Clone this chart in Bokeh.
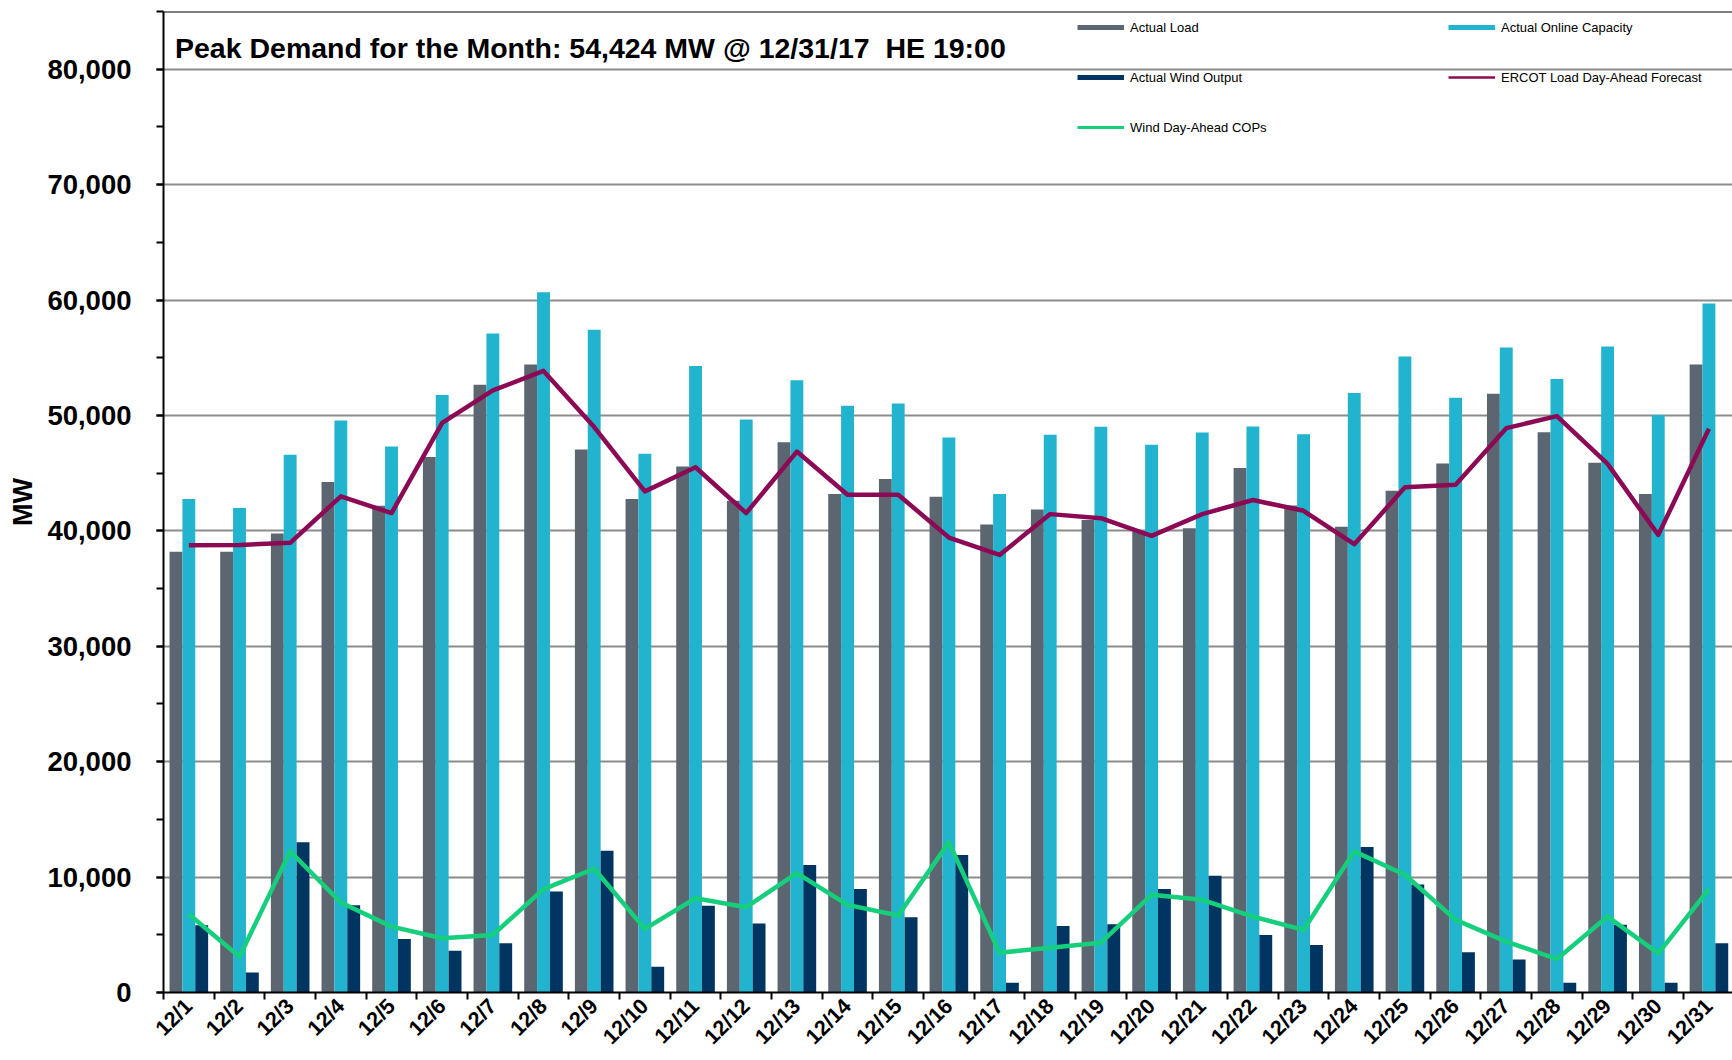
import numpy as np
from bokeh.plotting import figure
from bokeh.models import (ColumnDataSource, Range1d, FixedTicker, Legend, LegendItem,
                          Label, Span, NumeralTickFormatter)
from bokeh.transform import dodge
from bokeh.embed import file_html
from bokeh.resources import INLINE

# ---------------- data ----------------
days = ["12/1", "12/2", "12/3", "12/4", "12/5", "12/6", "12/7", "12/8", "12/9", "12/10",
        "12/11", "12/12", "12/13", "12/14", "12/15", "12/16", "12/17", "12/18", "12/19",
        "12/20", "12/21", "12/22", "12/23", "12/24", "12/25", "12/26", "12/27", "12/28",
        "12/29", "12/30", "12/31"]

actual_load = [38200, 38200, 39770, 44230, 42170, 46400, 52670, 54410, 47040, 42750,
               45570, 42610, 47680, 43190, 44490, 42960, 40550, 41860, 40930, 39940,
               40230, 45450, 42200, 40350, 43480, 45830, 51880, 48550, 45910, 43190, 54424]

online_capacity = [42750, 41970, 46600, 49570, 47300, 51770, 57100, 60670, 57420, 46670,
                   54290, 49650, 53040, 50840, 51040, 48090, 43190, 48320, 49010, 47450,
                   48520, 49040, 48380, 51940, 55100, 51540, 55880, 53160, 55970, 50030, 59710]

wind_output = [5830, 1740, 13010, 7570, 4640, 3620, 4260, 8750, 12290, 2230,
               7510, 5970, 11040, 8960, 6520, 11910, 840, 5770, 5910, 8960,
               10120, 4990, 4120, 12610, 9360, 3480, 2870, 840, 5860, 840, 4260]

load_forecast = [38750, 38780, 38960, 42990, 41540, 49360, 52170, 53860, 48990, 43420,
                 45510, 41540, 46870, 43130, 43130, 39420, 37910, 41450, 41100, 39570,
                 41450, 42670, 41740, 38840, 43770, 44000, 48900, 49940, 45800, 39650, 48840]

wind_cops = [6780, 3100, 12230, 7800, 5710, 4700, 4990, 8960, 10720, 5510,
             8170, 7390, 10350, 7590, 6670, 13010, 3450, 3880, 4320, 8460,
             8030, 6580, 5420, 12230, 10200, 6290, 4410, 2900, 6580, 3390, 8960]

y_major = [0, 10000, 20000, 30000, 40000, 50000, 60000, 70000, 80000]
y_minor = list(range(0, 85001, 5000))
y_max = 85000

series_names = ["Actual Load", "Actual Online Capacity", "Actual Wind Output",
                "ERCOT Load Day-Ahead Forecast", "Wind Day-Ahead COPs"]

# ---------------- styles ----------------
C_LOAD = "#5b6670"
C_CAP = "#22b4cf"
C_WIND = "#003461"
C_FC = "#8c0a55"
C_COPS = "#16cf7d"
FONT = "Liberation Sans"

n = len(days)
centers = [i + 0.5 for i in range(n)]
bounds = [i for i in range(n + 1)]

src = ColumnDataSource(dict(x=centers, load=actual_load, cap=online_capacity,
                            wind=wind_output, fc=load_forecast, cops=wind_cops))

p = figure(width=1732, height=1060, x_range=Range1d(0, 30.965), y_range=Range1d(0, y_max),
           output_backend="svg", toolbar_location=None,
           min_border_left=163, min_border_right=0, min_border_top=11, min_border_bottom=68)
p.outline_line_color = None
p.background_fill_color = "white"
p.border_fill_color = "white"

bw = 0.254
r_load = p.vbar(x=dodge("x", -bw, range=p.x_range), top="load", width=bw, source=src,
                fill_color=C_LOAD, line_color=None)
r_cap = p.vbar(x=dodge("x", 0.0, range=p.x_range), top="cap", width=bw, source=src,
               fill_color=C_CAP, line_color=None)
r_wind = p.vbar(x=dodge("x", bw, range=p.x_range), top="wind", width=bw, source=src,
                fill_color=C_WIND, line_color=None)
r_fc = p.line("x", "fc", source=src, line_color=C_FC, line_width=4.5, line_join="round")
r_cops = p.line("x", "cops", source=src, line_color=C_COPS, line_width=4.5, line_join="round")

# legend proxies (line swatches), no visible marks
proxy = ColumnDataSource(dict(x=[np.nan], y=[np.nan]))
px_load = p.line("x", "y", source=proxy, line_color=C_LOAD, line_width=5)
px_cap = p.line("x", "y", source=proxy, line_color=C_CAP, line_width=5)
px_wind = p.line("x", "y", source=proxy, line_color=C_WIND, line_width=5)
px_fc = p.line("x", "y", source=proxy, line_color=C_FC, line_width=2.5)
px_cops = p.line("x", "y", source=proxy, line_color=C_COPS, line_width=3)

# grid
p.xgrid.visible = False
p.ygrid.ticker = FixedTicker(ticks=y_major)
p.ygrid.grid_line_color = "#8c8c8c"
p.ygrid.grid_line_width = 2

# y axis
p.yaxis.ticker = FixedTicker(ticks=y_major, minor_ticks=y_minor)
p.yaxis.formatter = NumeralTickFormatter(format="0,0")
p.yaxis.axis_line_color = "black"
p.yaxis.axis_line_width = 2
p.yaxis.major_tick_line_color = "black"
p.yaxis.major_tick_line_width = 2
p.yaxis.major_tick_in = 0
p.yaxis.major_tick_out = 7
p.yaxis.minor_tick_line_color = "black"
p.yaxis.minor_tick_line_width = 2
p.yaxis.minor_tick_in = 0
p.yaxis.minor_tick_out = 7
p.yaxis.major_label_text_font = FONT
p.yaxis.major_label_text_font_style = "bold"
p.yaxis.major_label_text_font_size = "27.5px"
p.yaxis.major_label_text_color = "black"
p.yaxis.major_label_standoff = 25
p.yaxis.axis_label = "MW"
p.yaxis.axis_label_text_font = FONT
p.yaxis.axis_label_text_font_style = "bold"
p.yaxis.axis_label_text_font_size = "27px"
p.yaxis.axis_label_text_color = "black"
p.yaxis.axis_label_standoff = 6

# x axis
p.xaxis.ticker = FixedTicker(ticks=centers, minor_ticks=bounds)
p.xaxis.major_label_overrides = {c: d for c, d in zip(centers, days)}
p.xaxis.axis_line_color = "black"
p.xaxis.axis_line_width = 2
p.xaxis.major_tick_line_color = None
p.xaxis.minor_tick_line_color = "black"
p.xaxis.minor_tick_line_width = 2
p.xaxis.minor_tick_in = 0
p.xaxis.minor_tick_out = 7
p.xaxis.major_label_orientation = np.pi / 4
p.xaxis.major_label_text_font = FONT
p.xaxis.major_label_text_font_style = "bold"
p.xaxis.major_label_text_font_size = "21.5px"
p.xaxis.major_label_text_color = "black"
p.xaxis.major_label_standoff = 3

# top border
p.add_layout(Span(location=y_max, dimension="width", line_color="black", line_width=2))

# title inside plot
peak_idx = int(np.argmax(actual_load))
title_text = f"Peak Demand for the Month: {actual_load[peak_idx]:,} MW @ {days[peak_idx]}/17\u00a0 HE 19:00"
p.add_layout(Label(x=0.227, y=81840, text=title_text, text_font=FONT, text_font_style="bold",
                   text_font_size="28.5px", text_color="black", text_baseline="middle"))

# legends
common = dict(glyph_width=47, glyph_height=20, label_height=20, spacing=30,
              padding=0, margin=0, border_line_color=None, background_fill_alpha=0,
              label_text_font=FONT, label_text_font_size="13px", label_standoff=6,
              label_text_color="black")
leg1 = Legend(items=[LegendItem(label=series_names[0], renderers=[px_load]),
                     LegendItem(label=series_names[2], renderers=[px_wind]),
                     LegendItem(label=series_names[4], renderers=[px_cops])],
              location=(914, 855), **common)
leg2 = Legend(items=[LegendItem(label=series_names[1], renderers=[px_cap]),
                     LegendItem(label=series_names[3], renderers=[px_fc])],
              location=(1285, 905), **common)
p.add_layout(leg1)
p.add_layout(leg2)

open("out.html", "w").write(file_html(p, INLINE))
